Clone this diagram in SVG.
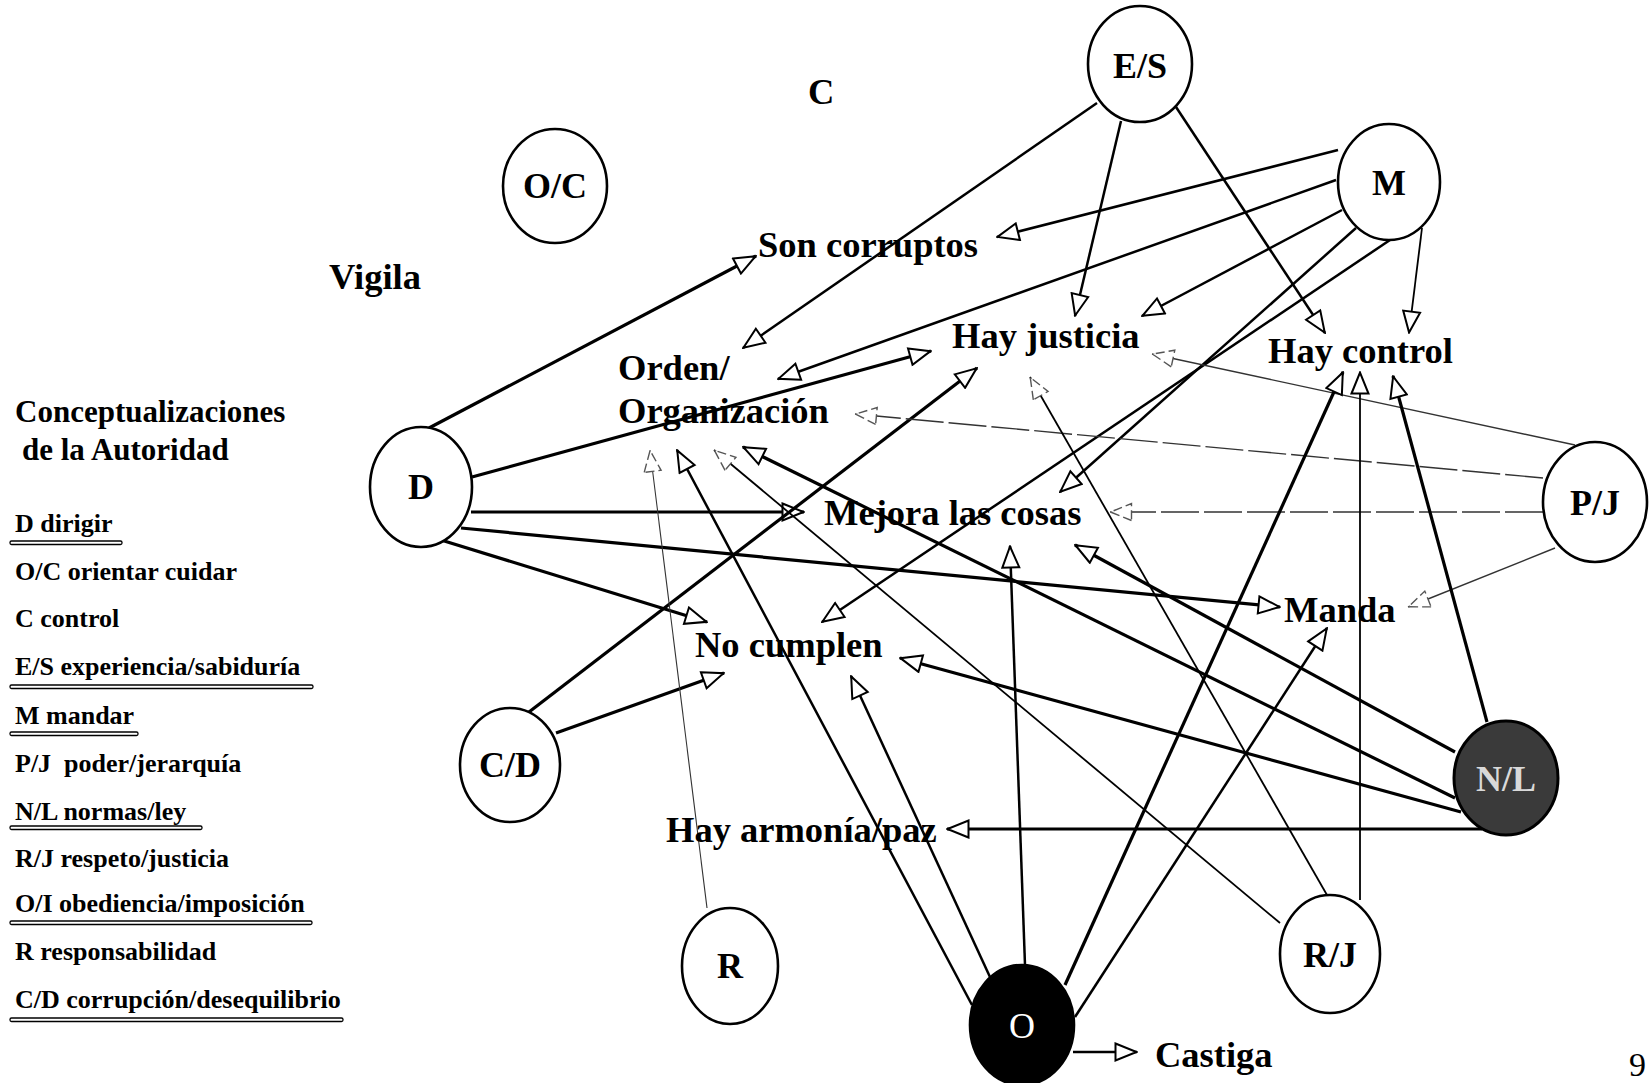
<svg xmlns="http://www.w3.org/2000/svg" width="1649" height="1083" viewBox="0 0 1649 1083">
<style>
text{font-family:"Liberation Serif","Times New Roman",serif;font-weight:bold;fill:#000}
.nl{font-size:36px;text-anchor:middle}
.lbl{font-size:36.5px}
.leg{font-size:26px}
.ttl{font-size:31px}
.node ellipse{fill:#fff;stroke:#000;stroke-width:2.6}
#connectors line{stroke:#000;fill:none;marker-end:url(#arr)}
#connectors .w3{stroke-width:3.2}
#connectors .w2{stroke-width:2.5}
#connectors .w1{stroke-width:1.8}
#connectors .lt{stroke-width:1.4;stroke:#333;marker-end:url(#arrL)}
#connectors .ds{stroke-dasharray:38 5}
.ul{fill:#fff;stroke:#000;stroke-width:1.3}
</style>
<defs>
<marker id="arr" viewBox="0 0 24 20" refX="23" refY="10" markerWidth="24" markerHeight="20" orient="auto" markerUnits="userSpaceOnUse">
<path d="M1.5,1.5 L22.5,10 L1.5,18.5 Z" fill="#fff" stroke="#000" stroke-width="2"/>
</marker>
<marker id="arrL" viewBox="0 0 24 20" refX="23" refY="10" markerWidth="24" markerHeight="20" orient="auto" markerUnits="userSpaceOnUse">
<path d="M1.5,1.5 L22.5,10 L1.5,18.5 Z" fill="#fff" stroke="#555" stroke-width="1.4" stroke-dasharray="9 4"/>
</marker>
</defs>
<rect width="1649" height="1083" fill="#fff"/>

<g id="connectors">
<!-- D -->
<line class="w3" x1="429" y1="428" x2="756" y2="256"/>
<line class="w3" x1="472" y1="477" x2="931" y2="351"/>
<line class="w3" x1="471" y1="512" x2="804" y2="512"/>
<line class="w3" x1="461" y1="528" x2="1280" y2="607"/>
<line class="w3" x1="441" y1="540" x2="707" y2="622"/>
<!-- C/D -->
<line class="w3" x1="529" y1="712" x2="977" y2="368"/>
<line class="w3" x1="556" y1="733" x2="724" y2="673"/>
<!-- E/S -->
<line class="w2" x1="1097" y1="103" x2="743" y2="348"/>
<line class="w2" x1="1121" y1="121" x2="1075" y2="316"/>
<line class="w2" x1="1176" y1="107" x2="1325" y2="333"/>
<!-- M -->
<line class="w2" x1="1338" y1="150" x2="997" y2="237"/>
<line class="w2" x1="1336" y1="180" x2="778" y2="379"/>
<line class="w2" x1="1342" y1="210" x2="1142" y2="316"/>
<line class="w2" x1="1356" y1="228" x2="1060" y2="492"/>
<line class="w2" x1="1390" y1="240" x2="822" y2="622"/>
<line class="w1" x1="1422" y1="228" x2="1409" y2="333"/>
<!-- P/J -->
<line class="lt" x1="1575" y1="445" x2="1152" y2="354"/>
<line class="lt ds" x1="1543" y1="478" x2="855" y2="414"/>
<line class="lt ds" x1="1543" y1="512" x2="1110" y2="512"/>
<line class="lt" x1="1555" y1="548" x2="1408" y2="607"/>
<!-- N/L -->
<line class="w3" x1="1487" y1="722" x2="1393" y2="376"/>
<line class="w3" x1="1455" y1="798" x2="743" y2="447"/>
<line class="w3" x1="1455" y1="752" x2="1075" y2="545"/>
<line class="w3" x1="1461" y1="812" x2="900" y2="658"/>
<line class="w3" x1="1482" y1="829" x2="947" y2="829"/>
<!-- O -->
<line class="w2" x1="972" y1="1005" x2="677" y2="450"/>
<line class="w2" x1="990" y1="977" x2="851" y2="676"/>
<line class="w2" x1="1025" y1="965" x2="1010" y2="546"/>
<line class="w3" x1="1065" y1="985" x2="1343" y2="372"/>
<line class="w2" x1="1075" y1="1017" x2="1327" y2="628"/>
<line class="w2" x1="1073" y1="1052" x2="1137" y2="1052"/>
<!-- R/J -->
<line class="w1" x1="1327" y1="895" x2="1030" y2="377" style="marker-end:url(#arrL)"/>
<line class="w1" x1="1360" y1="900" x2="1360" y2="372"/>
<line class="w1" x1="1280" y1="923" x2="714" y2="450" style="marker-end:url(#arrL)"/>
<!-- R -->
<line class="lt" x1="707" y1="908" x2="650" y2="450" style="stroke-width:1.1"/>
</g>

<g id="labels">
<text class="lbl" x="808" y="104">C</text>
<text class="lbl" x="329" y="289">Vigila</text>
<text class="lbl" x="758" y="257">Son corruptos</text>
<text class="lbl" x="618" y="380">Orden/</text>
<text class="lbl" x="618" y="423">Organización</text>
<text class="lbl" x="952" y="348">Hay justicia</text>
<text class="lbl" x="1268" y="363">Hay control</text>
<text class="lbl" x="824" y="525">Mejora las cosas</text>
<text class="lbl" x="1284" y="622">Manda</text>
<text class="lbl" x="695" y="657">No cumplen</text>
<text class="lbl" x="666" y="842">Hay armonía/paz</text>
<text class="lbl" x="1155" y="1067">Castiga</text>
<text x="1629" y="1076" style="font-weight:normal;font-size:34px">9</text>
</g>

<g id="legend">
<text class="ttl" x="15" y="422">Conceptualizaciones</text>
<text class="ttl" x="22" y="460">de la Autoridad</text>
<text class="leg" x="15" y="532">D dirigir</text>
<rect class="ul" x="10" y="541" width="112" height="3.5" rx="1.5"/>
<text class="leg" x="15" y="580">O/C orientar cuidar</text>
<text class="leg" x="15" y="627">C control</text>
<text class="leg" x="15" y="675">E/S experiencia/sabiduría</text>
<rect class="ul" x="10" y="685" width="303" height="3.5" rx="1.5"/>
<text class="leg" x="15" y="724">M mandar</text>
<rect class="ul" x="10" y="732" width="128" height="3.5" rx="1.5"/>
<text class="leg" x="15" y="772">P/J&#160; poder/jerarquía</text>
<text class="leg" x="15" y="820">N/L normas/ley</text>
<rect class="ul" x="10" y="826" width="192" height="3.5" rx="1.5"/>
<text class="leg" x="15" y="867">R/J respeto/justicia</text>
<text class="leg" x="15" y="912">O/I obediencia/imposición</text>
<rect class="ul" x="10" y="921" width="302" height="3.5" rx="1.5"/>
<text class="leg" x="15" y="960">R responsabilidad</text>
<text class="leg" x="15" y="1008">C/D corrupción/desequilibrio</text>
<rect class="ul" x="10" y="1018" width="333" height="3.5" rx="1.5"/>
</g>

<g id="node-ES" class="node"><ellipse cx="1140" cy="64" rx="52" ry="58"/><text class="nl" x="1140" y="78">E/S</text></g>
<g id="node-M" class="node"><ellipse cx="1389" cy="182" rx="51" ry="58"/><text class="nl" x="1389" y="195">M</text></g>
<g id="node-OC" class="node"><ellipse cx="555" cy="186" rx="52" ry="57"/><text class="nl" x="555" y="198">O/C</text></g>
<g id="node-D" class="node"><ellipse cx="421" cy="487" rx="51" ry="60"/><text class="nl" x="421" y="499">D</text></g>
<g id="node-CD" class="node"><ellipse cx="510" cy="765" rx="50" ry="57"/><text class="nl" x="510" y="777">C/D</text></g>
<g id="node-R" class="node"><ellipse cx="730" cy="966" rx="48" ry="58"/><text class="nl" x="730" y="978">R</text></g>
<g id="node-RJ" class="node"><ellipse cx="1330" cy="954" rx="50" ry="59"/><text class="nl" x="1330" y="967">R/J</text></g>
<g id="node-PJ" class="node"><ellipse cx="1595" cy="502" rx="52" ry="60"/><text class="nl" x="1595" y="515">P/J</text></g>
<g id="node-NL" class="node"><ellipse cx="1506" cy="778" rx="52" ry="57" style="fill:#3a3a3a;stroke-width:3"/><text class="nl" x="1506" y="791" style="fill:#d9d9d9">N/L</text></g>
<g id="node-O" class="node"><ellipse cx="1022" cy="1025" rx="52" ry="60" style="fill:#000"/><text class="nl" x="1022" y="1038" style="fill:#fff;font-weight:normal">O</text></g>
</svg>
